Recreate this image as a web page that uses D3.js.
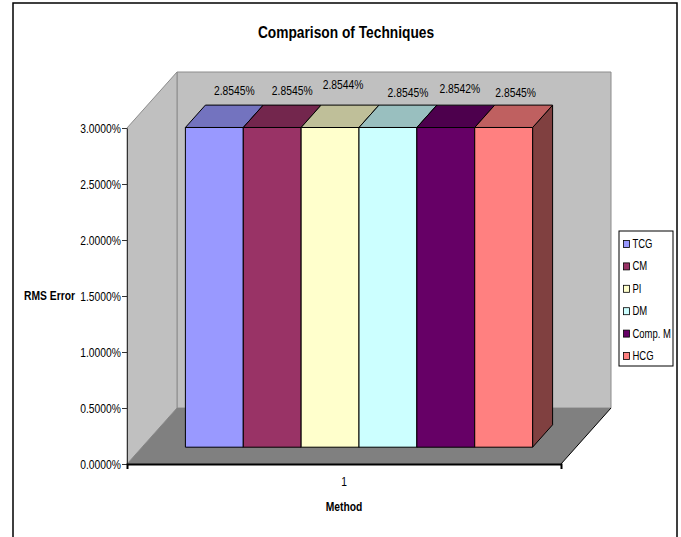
<!DOCTYPE html>
<html>
<head>
<meta charset="utf-8">
<script src="https://cdn.jsdelivr.net/npm/d3@7/dist/d3.min.js"></script>
<style>
  html, body { margin: 0; padding: 0; background: #fff; }
  svg { display: block; font-family: "Liberation Sans", Arial, sans-serif; }
</style>
</head>
<body>
<svg id="chart" width="681" height="537"></svg>
<script>
// ---- data ----
const categories = ["1"];
const seriesNames = ["TCG", "CM", "PI", "DM", "Comp. M", "HCG"];
const rmsError = [2.8545, 2.8545, 2.8544, 2.8545, 2.8542, 2.8545]; // percent
const valueTicks = [0, 0.5, 1.0, 1.5, 2.0, 2.5, 3.0];
const seriesColors = ["#9999FF", "#993366", "#FFFFCC", "#CCFFFF", "#660066", "#FF8080"];

// small label offsets so neighbouring value labels stay readable
const labelShift = [[0, 0], [0, 0], [-7, -6], [0, 2], [-6, -2], [-8, 2]];

// ---- layout ----
const svg = d3.select("#chart");
const plot = { left: 127, right: 561, top: 128, bottom: 464 };
const depth = { dx: 50, dy: -56 };      // oblique offset from front to back wall
const barDepth = [0.3, 0.7];            // bars sit in the middle of the floor depth
const squeeze = 0.86;                   // narrow text rendering

const y = d3.scaleLinear().domain([0, 3]).range([plot.bottom, plot.top]);
const xCat = d3.scaleBand().domain(categories).range([plot.left, plot.right]);
const xSer = d3.scaleBand().domain(seriesNames)
  .range([0, xCat.bandwidth()]).paddingInner(0).paddingOuter(0.75);

const proj = (x, v, f) => [x + f * depth.dx, y(v) + f * depth.dy];
const poly = pts => pts.map(p => p.join(",")).join(" ");
const shade = (c, k) => { const r = d3.rgb(c); return d3.rgb(r.r * k, r.g * k, r.b * k).formatHex(); };

function label(g, text, x, yy, opts = {}) {
  return g.append("text")
    .attr("transform", `translate(${x},${yy}) scale(${opts.squeeze || squeeze},1)`)
    .attr("text-anchor", opts.anchor || "middle")
    .attr("font-size", opts.size || 12)
    .attr("font-weight", opts.bold ? "bold" : "normal")
    .attr("fill", "#000")
    .text(text);
}

// chart area frame
svg.append("rect").attr("x", 13).attr("y", 3).attr("width", 664).attr("height", 560)
  .attr("fill", "#fff").attr("stroke", "#000").attr("stroke-width", 1.5);

label(svg, "Comparison of Techniques", 346, 38, { size: 16, bold: true });

// ---- walls and floor ----
const vMax = y.domain()[1];
const backWall = [proj(plot.left, vMax, 1), proj(plot.right, vMax, 1), proj(plot.right, 0, 1), proj(plot.left, 0, 1)];
const sideWall = [proj(plot.left, vMax, 0), proj(plot.left, vMax, 1), proj(plot.left, 0, 1), proj(plot.left, 0, 0)];
const floor = [proj(plot.left, 0, 0), proj(plot.right, 0, 0), proj(plot.right, 0, 1), proj(plot.left, 0, 1)];

svg.append("polygon").attr("points", poly(backWall)).attr("fill", "#C0C0C0").attr("stroke", "#8C8C8C");
svg.append("polygon").attr("points", poly(sideWall)).attr("fill", "#C0C0C0").attr("stroke", "#8C8C8C");
svg.append("polygon").attr("points", poly(floor)).attr("fill", "#808080").attr("stroke", "none");
svg.append("line")
  .attr("x1", proj(plot.right, 0, 0)[0]).attr("y1", proj(plot.right, 0, 0)[1])
  .attr("x2", proj(plot.right, 0, 1)[0]).attr("y2", proj(plot.right, 0, 1)[1])
  .attr("stroke", "#000").attr("stroke-width", 1);

// ---- 3D columns ----
const bars = svg.append("g");
seriesNames.forEach((name, i) => {
  const x0 = xCat(categories[0]) + xSer(name);
  const x1 = x0 + xSer.bandwidth();
  const v = rmsError[i];
  const [f0, f1] = barDepth;
  const col = seriesColors[i];
  const g = bars.append("g").attr("stroke", "#000").attr("stroke-width", 1).attr("stroke-linejoin", "round");
  // right side
  g.append("polygon").attr("fill", shade(col, 0.5))
    .attr("points", poly([proj(x1, 0, f0), proj(x1, v, f0), proj(x1, v, f1), proj(x1, 0, f1)]));
  // top
  g.append("polygon").attr("fill", shade(col, 0.75))
    .attr("points", poly([proj(x0, v, f0), proj(x1, v, f0), proj(x1, v, f1), proj(x0, v, f1)]));
  // front
  g.append("polygon").attr("fill", col)
    .attr("points", poly([proj(x0, 0, f0), proj(x1, 0, f0), proj(x1, v, f0), proj(x0, v, f0)]));
});

// value labels above each column
seriesNames.forEach((name, i) => {
  const xc = xCat(categories[0]) + xSer(name) + xSer.bandwidth() / 2;
  const [lx, ly] = proj(xc, rmsError[i], barDepth[1]);
  label(svg, d3.format(".4f")(rmsError[i]) + "%", lx + labelShift[i][0], ly - 10 + labelShift[i][1]);
});

// ---- axes ----
const yAxis = svg.append("g").attr("transform", `translate(${plot.left},0)`)
  .call(d3.axisLeft(y).tickValues(valueTicks).tickSize(5).tickSizeOuter(0)
    .tickFormat(d => d3.format(".4f")(d) + "%"));
yAxis.select(".domain").attr("stroke", "#333");
yAxis.selectAll(".tick line").attr("stroke", "#333");
yAxis.selectAll(".tick text")
  .attr("x", null).attr("dy", null).attr("font-size", 12).attr("font-family", null)
  .attr("text-anchor", "end").attr("fill", "#000")
  .attr("transform", `translate(-6,4) scale(${squeeze},1)`);

const xAxis = svg.append("g").attr("transform", `translate(0,${plot.bottom})`)
  .call(d3.axisBottom(xCat).tickSizeInner(0).tickSizeOuter(5).tickPadding(0));
xAxis.select(".domain").attr("stroke", "#000").attr("stroke-width", 2);
xAxis.selectAll(".tick text")
  .attr("y", null).attr("dy", null).attr("font-size", 12).attr("font-family", null).attr("fill", "#000")
  .attr("transform", `translate(0,22) scale(${squeeze},1)`);

label(svg, "RMS Error", 75, y(1.5) + 4, { bold: true, anchor: "end" });
label(svg, "Method", (plot.left + plot.right) / 2, 511, { bold: true });

// ---- legend ----
const legend = svg.append("g");
legend.append("rect").attr("x", 619).attr("y", 231).attr("width", 54).attr("height", 135)
  .attr("fill", "#fff").attr("stroke", "#000");
seriesNames.forEach((name, i) => {
  const cy = 244 + i * 22.4;
  legend.append("rect").attr("x", 623.5).attr("y", cy - 3.5).attr("width", 6).attr("height", 7)
    .attr("fill", seriesColors[i]).attr("stroke", "#000").attr("stroke-width", 0.8);
  label(legend, name, 632.5, cy + 4, { anchor: "start", squeeze: 0.79 });
});
</script>
</body>
</html>
